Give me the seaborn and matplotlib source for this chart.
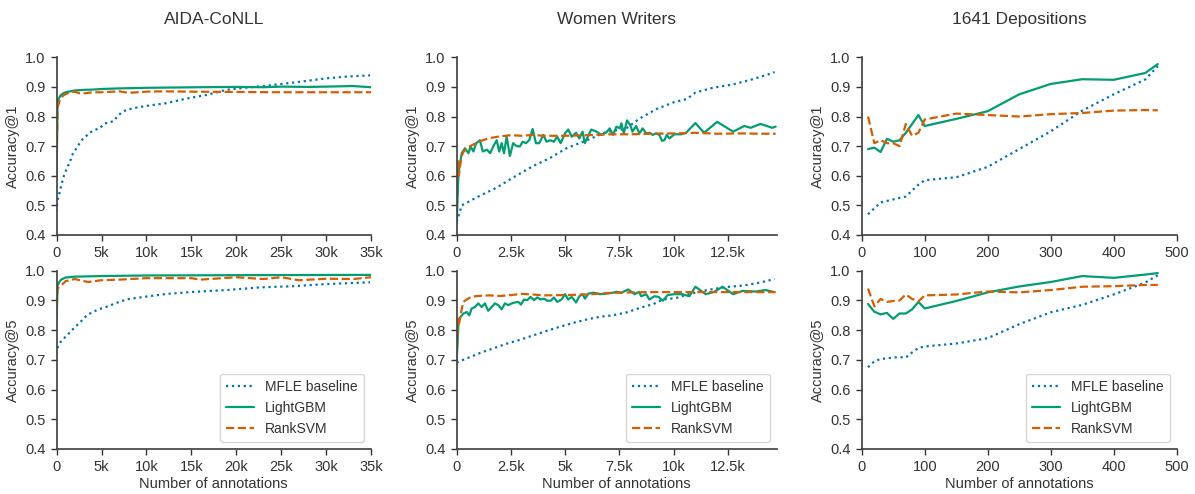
import numpy as np
import pandas as pd
import matplotlib
matplotlib.use("Agg")
import matplotlib.pyplot as plt
from matplotlib.ticker import FuncFormatter, MultipleLocator
import seaborn as sns

# ---------------- data ----------------
titles = ["AIDA-CoNLL", "Women Writers", "1641 Depositions"]
series_names = ["MFLE baseline", "LightGBM", "RankSVM"]
ylabels = ["Accuracy@1", "Accuracy@5"]

# AIDA-CoNLL (x in annotations)
aida_top_mfle_x = [0, 70, 260, 370, 560, 700, 900, 1150, 1370, 1600, 1800, 2150, 2500, 2850, 3260, 3700,
                   4260, 4800, 5300, 5850, 6400, 6740, 7200, 7700, 8500, 10000, 12200, 14500, 16700, 18900,
                   21200, 23400, 25600, 27800, 30000, 32300, 34900]
aida_top_mfle_y = [0.479, 0.516, 0.533, 0.552, 0.570, 0.590, 0.608, 0.625, 0.640, 0.657, 0.674, 0.690, 0.707,
                   0.722, 0.733, 0.746, 0.755, 0.760, 0.776, 0.780, 0.785, 0.800, 0.813, 0.821, 0.828, 0.836,
                   0.845, 0.861, 0.873, 0.890, 0.898, 0.904, 0.912, 0.920, 0.929, 0.935, 0.939]
aida_top_lgbm_x = [0, 100, 200, 400, 700, 1000, 1500, 2000, 3000, 4000, 5000, 7000, 10000, 13000, 16000,
                   20000, 23000, 25000, 28000, 30000, 33000, 35000]
aida_top_lgbm_y = [0.600, 0.850, 0.858, 0.870, 0.878, 0.882, 0.885, 0.888, 0.890, 0.891, 0.893, 0.895, 0.897,
                   0.898, 0.899, 0.900, 0.899, 0.901, 0.900, 0.901, 0.903, 0.899]
aida_top_rsvm_x = [0, 100, 200, 400, 700, 1000, 1500, 2000, 2500, 3000, 4000, 5000, 7000, 8000, 10000, 12000,
                   15000, 20000, 25000, 30000, 35000]
aida_top_rsvm_y = [0.670, 0.830, 0.840, 0.860, 0.870, 0.876, 0.881, 0.884, 0.879, 0.878, 0.882, 0.882, 0.885,
                   0.880, 0.884, 0.885, 0.884, 0.883, 0.882, 0.882, 0.882]

aida_bot_mfle_x = [0, 150, 440, 1000, 1550, 2100, 2670, 3400, 4500, 5600, 6700, 7850, 10000, 12300, 15300,
                   19000, 22700, 26400, 30000, 34900]
aida_bot_mfle_y = [0.720, 0.745, 0.760, 0.778, 0.795, 0.812, 0.828, 0.851, 0.868, 0.879, 0.892, 0.904, 0.913,
                   0.922, 0.929, 0.935, 0.944, 0.948, 0.955, 0.961]
aida_bot_lgbm_x = [0, 100, 300, 500, 1000, 2000, 5000, 10000, 20000, 35000]
aida_bot_lgbm_y = [0.840, 0.950, 0.962, 0.970, 0.977, 0.980, 0.982, 0.984, 0.985, 0.986]
aida_bot_rsvm_x = [0, 100, 500, 1000, 2000, 3500, 5000, 7000, 10000, 15000, 16000, 20000, 23000, 25000,
                   27000, 30000, 33000, 35000]
aida_bot_rsvm_y = [0.880, 0.940, 0.950, 0.965, 0.972, 0.962, 0.968, 0.970, 0.975, 0.975, 0.970, 0.978, 0.972,
                   0.978, 0.968, 0.973, 0.972, 0.978]

# Women Writers
ww_top_mfle_x = [0, 230, 920, 1840, 2600, 3500, 4300, 5060, 6000, 6900, 7800, 8400, 9200, 10000, 10600,
                 11000, 11800, 12700, 13500, 14300, 14650]
ww_top_mfle_y = [0.444, 0.500, 0.527, 0.560, 0.594, 0.632, 0.660, 0.693, 0.720, 0.748, 0.759, 0.792, 0.825,
                 0.848, 0.859, 0.881, 0.897, 0.908, 0.923, 0.941, 0.950]
ww_top_lgbm_x = [0, 80, 230, 380, 540, 640, 770, 890, 1070, 1200, 1390, 1540, 1720, 1840, 1960, 2070, 2180,
                 2300, 2450, 2600, 2760, 2910, 3040, 3190, 3340, 3500, 3650, 3800, 3990, 4140, 4300, 4480,
                 4630, 4790, 4990, 5140, 5300, 5500, 5650, 5800, 5900, 6200, 6440, 6670, 6900, 7050, 7200,
                 7360, 7510, 7590, 7700, 7850, 8000, 8100, 8270, 8420, 8570, 8730, 8880, 9030, 9190, 9340,
                 9460, 9570, 9680, 9800, 10030, 10340, 10570, 11000, 11400, 12000, 12740, 13250, 13550,
                 14000, 14540, 14700]
ww_top_lgbm_y = [0.440, 0.608, 0.676, 0.693, 0.676, 0.699, 0.682, 0.709, 0.720, 0.682, 0.688, 0.676, 0.704,
                 0.720, 0.682, 0.710, 0.676, 0.732, 0.667, 0.710, 0.700, 0.699, 0.715, 0.710, 0.720, 0.758,
                 0.710, 0.710, 0.738, 0.715, 0.720, 0.715, 0.732, 0.710, 0.743, 0.756, 0.732, 0.745, 0.726,
                 0.749, 0.710, 0.756, 0.749, 0.738, 0.747, 0.760, 0.738, 0.766, 0.760, 0.777, 0.743, 0.787,
                 0.771, 0.749, 0.768, 0.743, 0.760, 0.743, 0.745, 0.738, 0.743, 0.738, 0.718, 0.720, 0.738,
                 0.726, 0.740, 0.740, 0.745, 0.778, 0.745, 0.782, 0.749, 0.768, 0.762, 0.775, 0.762, 0.766]
ww_top_rsvm_x = [0, 50, 100, 200, 300, 500, 1000, 1500, 2000, 2500, 3000, 3500, 4000, 5000, 6000, 7000,
                 8000, 9000, 10000, 11000, 12000, 13000, 14000, 14700]
ww_top_rsvm_y = [0.570, 0.650, 0.600, 0.660, 0.680, 0.695, 0.715, 0.727, 0.733, 0.737, 0.735, 0.738, 0.735,
                 0.735, 0.737, 0.740, 0.740, 0.742, 0.743, 0.745, 0.742, 0.743, 0.742, 0.742]

ww_bot_mfle_x = [0, 60, 500, 1100, 1700, 2330, 2940, 3550, 4170, 4780, 5400, 6000, 6600, 7200, 7800, 8450,
                 9070, 9500, 10100, 10600, 11200, 11800, 12400, 13200, 13970, 14650]
ww_bot_mfle_y = [0.690, 0.693, 0.706, 0.724, 0.739, 0.755, 0.768, 0.783, 0.798, 0.812, 0.825, 0.836, 0.845,
                 0.850, 0.859, 0.875, 0.888, 0.903, 0.908, 0.919, 0.930, 0.938, 0.945, 0.950, 0.960, 0.972]
ww_bot_lgbm_x = [0, 80, 180, 310, 460, 580, 690, 840, 990, 1150, 1300, 1450, 1610, 1760, 1920, 2070, 2220,
                 2380, 2530, 2680, 2840, 2960, 3100, 3250, 3400, 3560, 3710, 3870, 4020, 4170, 4330, 4480,
                 4630, 4830, 4990, 5140, 5300, 5500, 5650, 5800, 5910, 6070, 6300, 6600, 6900, 7200, 7360,
                 7590, 7900, 8200, 8400, 8500, 8730, 8880, 9100, 9300, 9500, 9720, 10030, 10400, 10720,
                 11000, 11480, 11870, 12250, 12740, 13170, 13780, 14240, 14630]
ww_bot_lgbm_y = [0.700, 0.823, 0.845, 0.856, 0.861, 0.850, 0.873, 0.878, 0.890, 0.878, 0.890, 0.865, 0.878,
                 0.890, 0.884, 0.870, 0.890, 0.884, 0.890, 0.893, 0.895, 0.886, 0.903, 0.901, 0.912, 0.901,
                 0.910, 0.903, 0.906, 0.899, 0.899, 0.910, 0.895, 0.903, 0.921, 0.903, 0.912, 0.893, 0.914,
                 0.921, 0.906, 0.923, 0.926, 0.921, 0.923, 0.926, 0.929, 0.926, 0.937, 0.921, 0.929, 0.914,
                 0.921, 0.903, 0.914, 0.912, 0.899, 0.918, 0.921, 0.921, 0.914, 0.946, 0.921, 0.929, 0.946,
                 0.921, 0.932, 0.930, 0.935, 0.928]
ww_bot_rsvm_x = [0, 50, 100, 200, 300, 500, 700, 1000, 1500, 2000, 2500, 3000, 3500, 4000, 5000, 6000, 7000,
                 8000, 9000, 10000, 11000, 12000, 13000, 14700]
ww_bot_rsvm_y = [0.700, 0.840, 0.820, 0.860, 0.895, 0.905, 0.913, 0.915, 0.917, 0.915, 0.918, 0.922, 0.920,
                 0.917, 0.918, 0.920, 0.925, 0.927, 0.928, 0.928, 0.928, 0.928, 0.928, 0.928]

# 1641 Depositions
dep_x = [10, 20, 30, 40, 50, 60, 70, 80, 90, 100, 150, 200, 250, 300, 350, 400, 450, 470]
dep_top_mfle = [0.470, 0.490, 0.510, 0.515, 0.520, 0.525, 0.530, 0.550, 0.570, 0.585, 0.595, 0.630, 0.690,
                0.750, 0.820, 0.875, 0.925, 0.970]
dep_top_lgbm = [0.690, 0.695, 0.680, 0.725, 0.715, 0.720, 0.745, 0.775, 0.805, 0.768, 0.792, 0.818, 0.875,
                0.910, 0.926, 0.924, 0.947, 0.977]
dep_top_rsvm = [0.800, 0.710, 0.720, 0.710, 0.710, 0.700, 0.775, 0.735, 0.745, 0.790, 0.810, 0.805, 0.800,
                0.808, 0.812, 0.820, 0.822, 0.821]
dep_bot_mfle = [0.675, 0.695, 0.703, 0.705, 0.708, 0.709, 0.708, 0.725, 0.740, 0.745, 0.755, 0.773, 0.820,
                0.860, 0.885, 0.920, 0.960, 0.985]
dep_bot_lgbm = [0.888, 0.862, 0.853, 0.858, 0.838, 0.856, 0.856, 0.870, 0.895, 0.873, 0.898, 0.927, 0.947,
                0.962, 0.982, 0.976, 0.987, 0.992]
dep_bot_rsvm = [0.940, 0.880, 0.905, 0.895, 0.898, 0.900, 0.920, 0.905, 0.897, 0.917, 0.920, 0.930, 0.927,
                0.935, 0.946, 0.948, 0.952, 0.952]

panels = {
    (0, 0): [(aida_top_mfle_x, aida_top_mfle_y), (aida_top_lgbm_x, aida_top_lgbm_y), (aida_top_rsvm_x, aida_top_rsvm_y)],
    (1, 0): [(aida_bot_mfle_x, aida_bot_mfle_y), (aida_bot_lgbm_x, aida_bot_lgbm_y), (aida_bot_rsvm_x, aida_bot_rsvm_y)],
    (0, 1): [(ww_top_mfle_x, ww_top_mfle_y), (ww_top_lgbm_x, ww_top_lgbm_y), (ww_top_rsvm_x, ww_top_rsvm_y)],
    (1, 1): [(ww_bot_mfle_x, ww_bot_mfle_y), (ww_bot_lgbm_x, ww_bot_lgbm_y), (ww_bot_rsvm_x, ww_bot_rsvm_y)],
    (0, 2): [(dep_x, dep_top_mfle), (dep_x, dep_top_lgbm), (dep_x, dep_top_rsvm)],
    (1, 2): [(dep_x, dep_bot_mfle), (dep_x, dep_bot_lgbm), (dep_x, dep_bot_rsvm)],
}

# ---------------- style ----------------
sns.set_theme(style="ticks")
plt.rcParams['font.family'] = ['Liberation Sans', 'DejaVu Sans']
plt.rcParams['font.size'] = 10

colors = ["#0173b2", "#029e73", "#d55e00"]
styles = [":", "-", "--"]
textcol = "#333333"

fig = plt.figure(figsize=(11.95, 4.94), dpi=100)
lefts = [0.0474, 0.3822, 0.7211]
widths = [0.263, 0.2678, 0.2636]
bottoms = [0.5243, 0.0911]
heights = [0.3597, 0.3609]

xlims = [(0, 35000), (0, 14750), (0, 500)]

def kfmt(v, pos):
    if v == 0:
        return "0"
    return f"{v/1000:g}k"

for (r, c), series in panels.items():
    ax = fig.add_axes([lefts[c], bottoms[r], widths[c], heights[r]])
    for i, (xs, ys) in enumerate(series):
        df = pd.DataFrame({"x": xs, "y": ys})
        sns.lineplot(data=df, x="x", y="y", ax=ax, color=colors[i], linestyle=styles[i],
                     linewidth=1.6, label=series_names[i], legend=False)
    ax.set_xlim(*xlims[c])
    ax.set_ylim(0.4, 1.0)
    ax.yaxis.set_major_locator(MultipleLocator(0.1))
    ax.yaxis.set_major_formatter(FuncFormatter(lambda v, p: f"{v:.1f}"))
    if c == 0:
        ax.xaxis.set_major_locator(MultipleLocator(5000))
        ax.xaxis.set_major_formatter(FuncFormatter(kfmt))
    elif c == 1:
        ax.xaxis.set_major_locator(MultipleLocator(2500))
        ax.xaxis.set_major_formatter(FuncFormatter(kfmt))
    else:
        ax.xaxis.set_major_locator(MultipleLocator(100))
    ax.tick_params(labelsize=10.5, length=4.5, width=1, colors=textcol)
    for s in ax.spines.values():
        s.set_color("#444444")
    ax.set_ylabel(ylabels[r], fontsize=10.5, labelpad=4, color=textcol)
    if r == 1:
        ax.set_xlabel("Number of annotations", fontsize=10.5, labelpad=2, color=textcol)
        leg = ax.legend(loc="lower right", fontsize=10, frameon=True, borderpad=0.45,
                        handlelength=2.0, handletextpad=0.8, labelspacing=0.5, borderaxespad=0.5)
        leg.get_frame().set_edgecolor("#cccccc")
        for t in leg.get_texts():
            t.set_color(textcol)
    else:
        ax.set_xlabel("")
        ax.set_title(titles[c], fontsize=12.5, pad=24, color=textcol)
    sns.despine(ax=ax)

fig.savefig("out.png", dpi=100)
